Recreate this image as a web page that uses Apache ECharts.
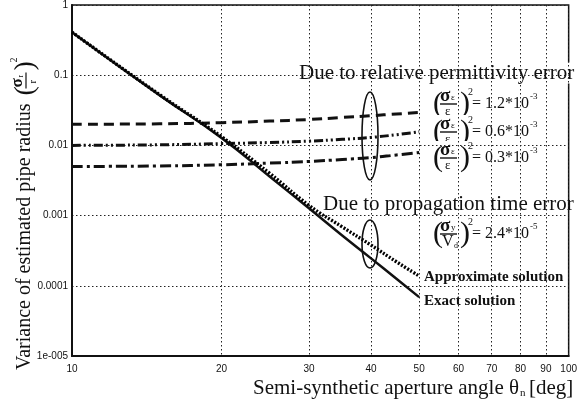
<!DOCTYPE html>
<html>
<head>
<meta charset="utf-8">
<script src="https://cdn.jsdelivr.net/npm/echarts@6/dist/echarts.min.js"></script>
<style>
  html, body { margin: 0; padding: 0; background: #fff; }
  #chart { width: 580px; height: 406px; }
</style>
</head>
<body>
<div id="chart"></div>
<script>
// aperture angle samples (deg)
const angles = [10, 15, 20, 25, 30, 35, 40, 45, 50];

// variance of estimated pipe radius
const exactSolution = [0.41, 0.052, 0.0128, 0.0036, 0.00127, 0.00052, 0.000246, 0.000126, 0.000069];
const approxSolution = [0.41, 0.053, 0.0133, 0.0040, 0.0014, 0.00069, 0.00038, 0.00022, 0.000138];
const permErr12 = [0.020, 0.0203, 0.0211, 0.0222, 0.0234, 0.025, 0.0265, 0.028, 0.0295];
const permErr06 = [0.0100, 0.0102, 0.0106, 0.0110, 0.0115, 0.0122, 0.0130, 0.0142, 0.0156];
const permErr03 = [0.0050, 0.0051, 0.0053, 0.0056, 0.0059, 0.0063, 0.0067, 0.0073, 0.0079];

const xTicks = [10, 20, 30, 40, 50, 60, 70, 80, 90, 100];
const yTickValues = [0.00001, 0.0001, 0.001, 0.01, 0.1, 1];
const yTickLabels = ['1e-005', '0.0001', '0.001', '0.01', '0.1', '1'];

const SERIF = '"Liberation Serif", "DejaVu Serif", serif';
const SANS = '"Liberation Sans", Arial, sans-serif';

const pairs = (ys) => angles.map((a, i) => [a, ys[i]]);

// measure text width so superscripts can follow
const ctx = document.createElement('canvas').getContext('2d');
function textWidth(str, font) {
  ctx.font = font;
  return ctx.measureText(str).width;
}

function txt(x, y, text, size, opts) {
  opts = opts || {};
  return {
    type: 'text', x: x, y: y, silent: true,
    style: Object.assign({
      text: text, fill: '#111',
      font: (opts.weight || 'normal') + ' ' + size + 'px ' + SERIF,
      align: opts.align || 'left', verticalAlign: 'middle'
    }, opts.style || {})
  };
}

// (sigma_sub / den)^2 = rhs * 10^exp
function formula(x, y, sub, den, denSub, rhs, exp) {
  const rhsFont = 'normal 16px ' + SERIF;
  const children = [
    { type: 'rect', shape: { x: -2, y: -16, width: 100, height: 32 }, style: { fill: '#fff' }, silent: true },
    txt(0, 1, '(', 30),
    txt(7, -7, 'σ', 19, { weight: 'bold' }),
    txt(18, -5, sub, 9),
    { type: 'line', shape: { x1: 7, y1: 1, x2: 24, y2: 1 }, style: { stroke: '#111', lineWidth: 1.4 }, silent: true },
    txt(den === 'ε' ? 12 : 9, 9, den, den === 'ε' ? 13 : 16, { style: den === 'ε' ? {} : { fontStyle: 'italic' } }),
    txt(27, 1, ')', 30),
    txt(35, -11, '2', 10),
    txt(39, 1, rhs, 16)
  ];
  if (denSub) children.push(txt(21, 13, denSub, 8));
  children.push(txt(39 + textWidth(rhs, rhsFont) + 1, -6, exp, 9));
  return { type: 'group', x: x, y: y, children: children };
}

const chart = echarts.init(document.getElementById('chart'), null, { renderer: 'canvas' });

const gridLine = { show: true, lineStyle: { color: '#222', width: 1, type: [1.5, 2.5] } };

chart.setOption({
  animation: false,
  backgroundColor: '#fff',
  grid: { left: 72, right: 8, top: 5, bottom: 50, show: true, borderColor: '#111', borderWidth: 1.5, containLabel: false },
  xAxis: {
    type: 'log', logBase: 10, min: 10, max: 100,
    axisLine: { show: true, onZero: false, lineStyle: { color: '#111', width: 2 } },
    axisTick: { show: false, customValues: xTicks },
    axisLabel: { customValues: xTicks, color: '#111', fontFamily: SANS, fontSize: 10, margin: 8,
      formatter: (v) => String(Math.round(v)) },
    splitLine: gridLine
  },
  yAxis: {
    type: 'log', logBase: 10, min: 0.00001, max: 1,
    axisLine: { show: true, onZero: false, lineStyle: { color: '#111', width: 2 } },
    axisTick: { show: false },
    axisLabel: { color: '#111', fontFamily: SANS, fontSize: 10, margin: 4,
      formatter: (v) => {
        let best = 0;
        yTickValues.forEach((t, i) => { if (Math.abs(Math.log10(t) - Math.log10(v)) < Math.abs(Math.log10(yTickValues[best]) - Math.log10(v))) best = i; });
        return yTickLabels[best];
      } },
    splitLine: gridLine
  },
  series: [
    { name: 'perm 1.2e-3', type: 'line', data: pairs(permErr12), smooth: true, showSymbol: false,
      lineStyle: { color: '#111', width: 3, type: [10, 6] } },
    { name: 'perm 0.6e-3', type: 'line', data: pairs(permErr06), smooth: true, showSymbol: false,
      lineStyle: { color: '#111', width: 3, type: [9, 3, 2, 3, 2, 3] } },
    { name: 'perm 0.3e-3', type: 'line', data: pairs(permErr03), smooth: true, showSymbol: false,
      lineStyle: { color: '#111', width: 3, type: [11, 4, 3, 4] } },
    { name: 'Exact solution', type: 'line', data: pairs(exactSolution), smooth: true, showSymbol: false,
      lineStyle: { color: '#111', width: 2.5 } },
    { name: 'Approximate solution', type: 'line', data: pairs(approxSolution), smooth: true, showSymbol: false,
      lineStyle: { color: '#000', width: 3.4, type: [2, 1.6] } }
  ],
  graphic: [
    // annotations
    txt(298, 73, 'Due to relative permittivity error', 21, { style: { backgroundColor: '#fff', padding: [0, 1] } }),
    { type: 'ellipse', shape: { cx: 370, cy: 136, rx: 8, ry: 44 }, style: { fill: null, stroke: '#111', lineWidth: 1.6 }, silent: true },
    formula(433, 103, 'ε', 'ε', null, '= 1.2*10', '-3'),
    formula(433, 131, 'ε', 'ε', null, '= 0.6*10', '-3'),
    formula(433, 157, 'ε', 'ε', null, '= 0.3*10', '-3'),
    txt(323, 204, 'Due to propagation time error', 21),
    { type: 'ellipse', shape: { cx: 370, cy: 244, rx: 8, ry: 24 }, style: { fill: null, stroke: '#111', lineWidth: 1.6 }, silent: true },
    formula(433, 233, 'y', 'V', 'd', '= 2.4*10', '-5'),
    txt(424, 277, 'Approximate solution', 15, { weight: 'bold', style: { backgroundColor: '#fff' } }),
    txt(424, 301, 'Exact solution', 15, { weight: 'bold', style: { backgroundColor: '#fff' } }),
    // axis titles
    {
      type: 'group', x: 253, y: 388,
      children: [
        txt(0, 0, 'Semi-synthetic aperture angle θ', 21),
        txt(textWidth('Semi-synthetic aperture angle θ', 'normal 21px ' + SERIF) + 1, 5, 'n', 11, { style: { fontStyle: 'italic' } }),
        txt(textWidth('Semi-synthetic aperture angle θ', 'normal 21px ' + SERIF) + 10, 0, '[deg]', 21)
      ]
    },
    {
      type: 'group', x: 25, y: 370, rotation: Math.PI / 2,
      children: (function () {
        const label = 'Variance of estimated pipe radius';
        const w = textWidth(label, 'normal 20px ' + SERIF);
        const f = w + 8;
        return [
          txt(0, 0, label, 20),
          txt(f, 1, '(', 28),
          txt(f + 8, -7, 'σ', 17, { weight: 'bold' }),
          txt(f + 18, -4, 'r', 8, { style: { fontStyle: 'italic' } }),
          { type: 'line', shape: { x1: f + 7, y1: 1, x2: f + 23, y2: 1 }, style: { stroke: '#111', lineWidth: 1.2 }, silent: true },
          txt(f + 12, 8, 'r', 11, { style: { fontStyle: 'italic' } }),
          txt(f + 25, 1, ')', 28),
          txt(f + 33, -11, '2', 10)
        ];
      })()
    }
  ]
});
</script>
</body>
</html>
